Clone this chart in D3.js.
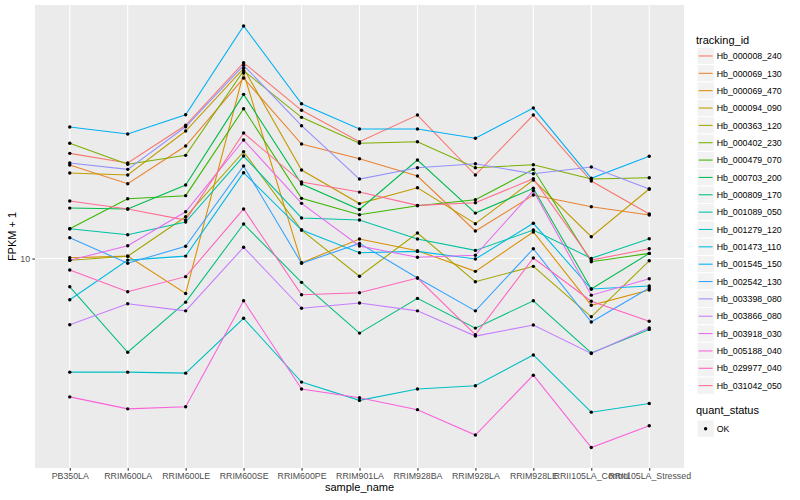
<!DOCTYPE html>
<html>
<head>
<meta charset="utf-8">
<script src="https://cdn.jsdelivr.net/npm/d3@7"></script>
<style>
  body { margin: 0; background: #fff; }
  svg { font-family: "Liberation Sans", Arial, sans-serif; }
</style>
</head>
<body>
<div id="plot"></div>
<script>
// sample names on the x axis
const samples = ["PB350LA", "RRIM600LA", "RRIM600LE", "RRIM600SE", "RRIM600PE", "RRIM901LA",
  "RRIM928BA", "RRIM928LA", "RRIM928LE", "RRII105LA_Control", "RRII105LA_Stressed"];

const trackingIds = ["Hb_000008_240", "Hb_000069_130", "Hb_000069_470", "Hb_000094_090",
  "Hb_000363_120", "Hb_000402_230", "Hb_000479_070", "Hb_000703_200", "Hb_000809_170",
  "Hb_001089_050", "Hb_001279_120", "Hb_001473_110", "Hb_001545_150", "Hb_002542_130",
  "Hb_003398_080", "Hb_003866_080", "Hb_003918_030", "Hb_005188_040", "Hb_029977_040",
  "Hb_031042_050"];

// FPKM + 1, one value per sample
const hb_000008_240 = [18.32, 17.33, 21.53, 30.87, 23.47, 19.59, 22.84, 16.17, 22.84, 15.62, 12.92];
const hb_000069_130 = [17.13, 15.38, 19.11, 28.26, 19.33, 17.76, 16.08, 11.72, 14.41, 13.47, 12.85];
const hb_000069_470 = [10.05, 10.14, 8.18, 29.09, 9.76, 11.19, 10.46, 9.29, 11.65, 7.64, 8.34];
const hb_000094_090 = [16.36, 16.17, 20.83, 29.89, 16.64, 13.72, 15.03, 12.22, 15.71, 11.34, 14.92];
const hb_000363_120 = [9.90, 10.13, 12.72, 18.49, 11.78, 9.03, 11.58, 8.75, 9.56, 7.15, 9.87];
const hb_000402_230 = [19.41, 17.20, 18.11, 29.48, 22.54, 19.41, 19.59, 16.87, 17.16, 15.80, 15.92];
const hb_000479_070 = [11.87, 14.11, 14.36, 23.69, 14.14, 12.87, 13.55, 14.03, 16.71, 9.82, 10.30];
const hb_000703_200 = [13.37, 13.30, 15.27, 25.73, 15.36, 13.26, 17.63, 12.99, 14.98, 8.39, 10.30];
const hb_000809_170 = [8.50, 5.83, 7.78, 12.20, 8.72, 6.51, 7.95, 6.70, 7.84, 5.81, 6.65];
const hb_001089_050 = [11.87, 11.47, 12.34, 18.04, 12.63, 12.48, 11.19, 10.48, 11.78, 10.01, 11.21];
const hb_001279_120 = [5.20, 5.20, 5.17, 7.09, 4.91, 4.42, 4.72, 4.81, 5.74, 4.13, 4.34];
const hb_001473_110 = [7.89, 9.91, 10.14, 16.39, 11.78, 10.34, 10.42, 9.97, 12.25, 8.39, 8.54];
const hb_001545_150 = [21.32, 20.48, 22.88, 38.13, 24.38, 21.07, 21.07, 19.98, 23.78, 15.87, 18.01];
const hb_002542_130 = [11.27, 9.73, 10.73, 17.03, 9.73, 10.91, 8.94, 7.40, 10.58, 6.94, 8.44];
const hb_003398_080 = [17.33, 16.71, 21.35, 30.41, 21.48, 15.80, 16.87, 17.26, 16.29, 16.93, 14.92];
const hb_003866_080 = [6.83, 7.71, 7.40, 10.67, 7.51, 7.74, 7.40, 6.40, 6.82, 5.79, 6.71];
const hb_003918_030 = [9.90, 10.76, 13.09, 19.78, 13.74, 10.75, 10.07, 10.19, 14.77, 8.10, 8.90];
const hb_005188_040 = [4.51, 4.21, 4.26, 7.84, 4.72, 4.49, 4.19, 3.62, 5.11, 3.37, 3.82];
const hb_029977_040 = [9.36, 8.26, 9.01, 13.30, 8.12, 8.21, 8.94, 6.45, 10.03, 7.82, 6.97];
const hb_031042_050 = [13.92, 13.30, 12.48, 20.59, 15.53, 14.66, 13.58, 13.79, 15.83, 9.91, 10.58];

const quantStatus = ["OK"];
const yTicks = [10];

const seriesValues = [hb_000008_240, hb_000069_130, hb_000069_470, hb_000094_090, hb_000363_120,
  hb_000402_230, hb_000479_070, hb_000703_200, hb_000809_170, hb_001089_050, hb_001279_120,
  hb_001473_110, hb_001545_150, hb_002542_130, hb_003398_080, hb_003866_080, hb_003918_030,
  hb_005188_040, hb_029977_040, hb_031042_050];

// ggplot default hue palette for 20 levels
const palette = ["#F8766D", "#EA8331", "#D89000", "#C09B00", "#A3A500", "#7CAE00", "#39B600",
  "#00BB4E", "#00BF7D", "#00C1A3", "#00BFC4", "#00BAE0", "#00B0F6", "#35A2FF", "#9590FF",
  "#C77CFF", "#E76BF3", "#FA62DB", "#FF62BC", "#FF6C91"];

const series = trackingIds.map((id, i) => ({ id: id, values: seriesValues[i], color: palette[i] }));

// Set up the SVG container
const margin = { top: 5, right: 116, bottom: 32, left: 35 };
const width = 800 - margin.left - margin.right;
const height = 500 - margin.top - margin.bottom;

const svg = d3.select("#plot").append("svg")
  .attr("width", 800)
  .attr("height", 500);

const g = svg.append("g")
  .attr("transform", "translate(" + margin.left + "," + margin.top + ")");

// scales
const xScale = d3.scalePoint().domain(samples).range([0, width]).padding(0.6);
const yScale = d3.scaleLog().domain([2.995, 43.03]).range([height, 0]);

// panel + grid
g.append("rect")
  .attr("width", width).attr("height", height)
  .attr("fill", "#EBEBEB");

g.selectAll(".vgrid").data(samples).enter().append("line")
  .attr("x1", d => xScale(d)).attr("x2", d => xScale(d))
  .attr("y1", 0).attr("y2", height)
  .attr("stroke", "#fff").attr("stroke-width", 1.07);

g.selectAll(".hgrid").data(yTicks).enter().append("line")
  .attr("x1", 0).attr("x2", width)
  .attr("y1", d => yScale(d)).attr("y2", d => yScale(d))
  .attr("stroke", "#fff").attr("stroke-width", 1.07);

// lines
const line = d3.line()
  .x((d, i) => xScale(samples[i]))
  .y(d => yScale(d));

g.selectAll(".series").data(series).enter().append("path")
  .attr("d", d => line(d.values))
  .attr("fill", "none")
  .attr("stroke", d => d.color)
  .attr("stroke-width", 1.07);

// points
series.forEach(s => {
  g.selectAll(null).data(s.values).enter().append("circle")
    .attr("cx", (d, i) => xScale(samples[i]))
    .attr("cy", d => yScale(d))
    .attr("r", 1.7)
    .attr("fill", "#000");
});

// axes
const xAxis = g.append("g")
  .attr("transform", "translate(0," + height + ")")
  .call(d3.axisBottom(xScale).tickSize(2.7).tickPadding(2.2));

const yAxis = g.append("g")
  .call(d3.axisLeft(yScale).tickValues(yTicks).tickFormat(d3.format("d")).tickSize(2.7).tickPadding(2.2));

[xAxis, yAxis].forEach(a => {
  a.select(".domain").remove();
  a.selectAll(".tick line").attr("stroke", "#333333").attr("stroke-width", 1.07);
  a.selectAll(".tick text")
    .attr("fill", "#4D4D4D")
    .style("font-size", "8.8px")
    .style("font-family", "'Liberation Sans', Arial, sans-serif");
});

// axis titles
svg.append("text")
  .attr("x", margin.left + width / 2).attr("y", 491)
  .attr("text-anchor", "middle")
  .style("font-size", "11px")
  .text("sample_name");

svg.append("text")
  .attr("transform", "translate(16," + (margin.top + height / 2) + ") rotate(-90)")
  .attr("text-anchor", "middle")
  .style("font-size", "11px")
  .text("FPKM + 1");

// legend: tracking_id
const legend = svg.append("g").attr("transform", "translate(697,0)");
legend.append("text")
  .attr("x", -1).attr("y", 44)
  .style("font-size", "11px")
  .text("tracking_id");

const keyH = 17.35;
const items = legend.selectAll(".item").data(series).enter().append("g")
  .attr("transform", (d, i) => "translate(0," + (47.3 + i * keyH) + ")");

items.append("rect")
  .attr("width", 17.3).attr("height", keyH)
  .attr("fill", "#F2F2F2")
  .attr("stroke", "#fff").attr("stroke-width", 1);

items.append("line")
  .attr("x1", 1.7).attr("x2", 15.6)
  .attr("y1", keyH / 2).attr("y2", keyH / 2)
  .attr("stroke", d => d.color)
  .attr("stroke-width", 1.07);

items.append("text")
  .attr("x", 19.7).attr("y", keyH / 2 + 3.2)
  .style("font-size", "8.8px")
  .text(d => d.id);

// legend: quant_status
legend.append("text")
  .attr("x", -1).attr("y", 414)
  .style("font-size", "11px")
  .text("quant_status");

const q = legend.selectAll(".qitem").data(quantStatus).enter().append("g")
  .attr("transform", (d, i) => "translate(0," + (420 + i * keyH) + ")");

q.append("rect")
  .attr("width", 17.3).attr("height", keyH)
  .attr("fill", "#F2F2F2")
  .attr("stroke", "#fff").attr("stroke-width", 1);

q.append("circle")
  .attr("cx", 8.6).attr("cy", keyH / 2)
  .attr("r", 1.7)
  .attr("fill", "#000");

q.append("text")
  .attr("x", 19.7).attr("y", keyH / 2 + 3.2)
  .style("font-size", "8.8px")
  .text(d => d);
</script>
</body>
</html>
